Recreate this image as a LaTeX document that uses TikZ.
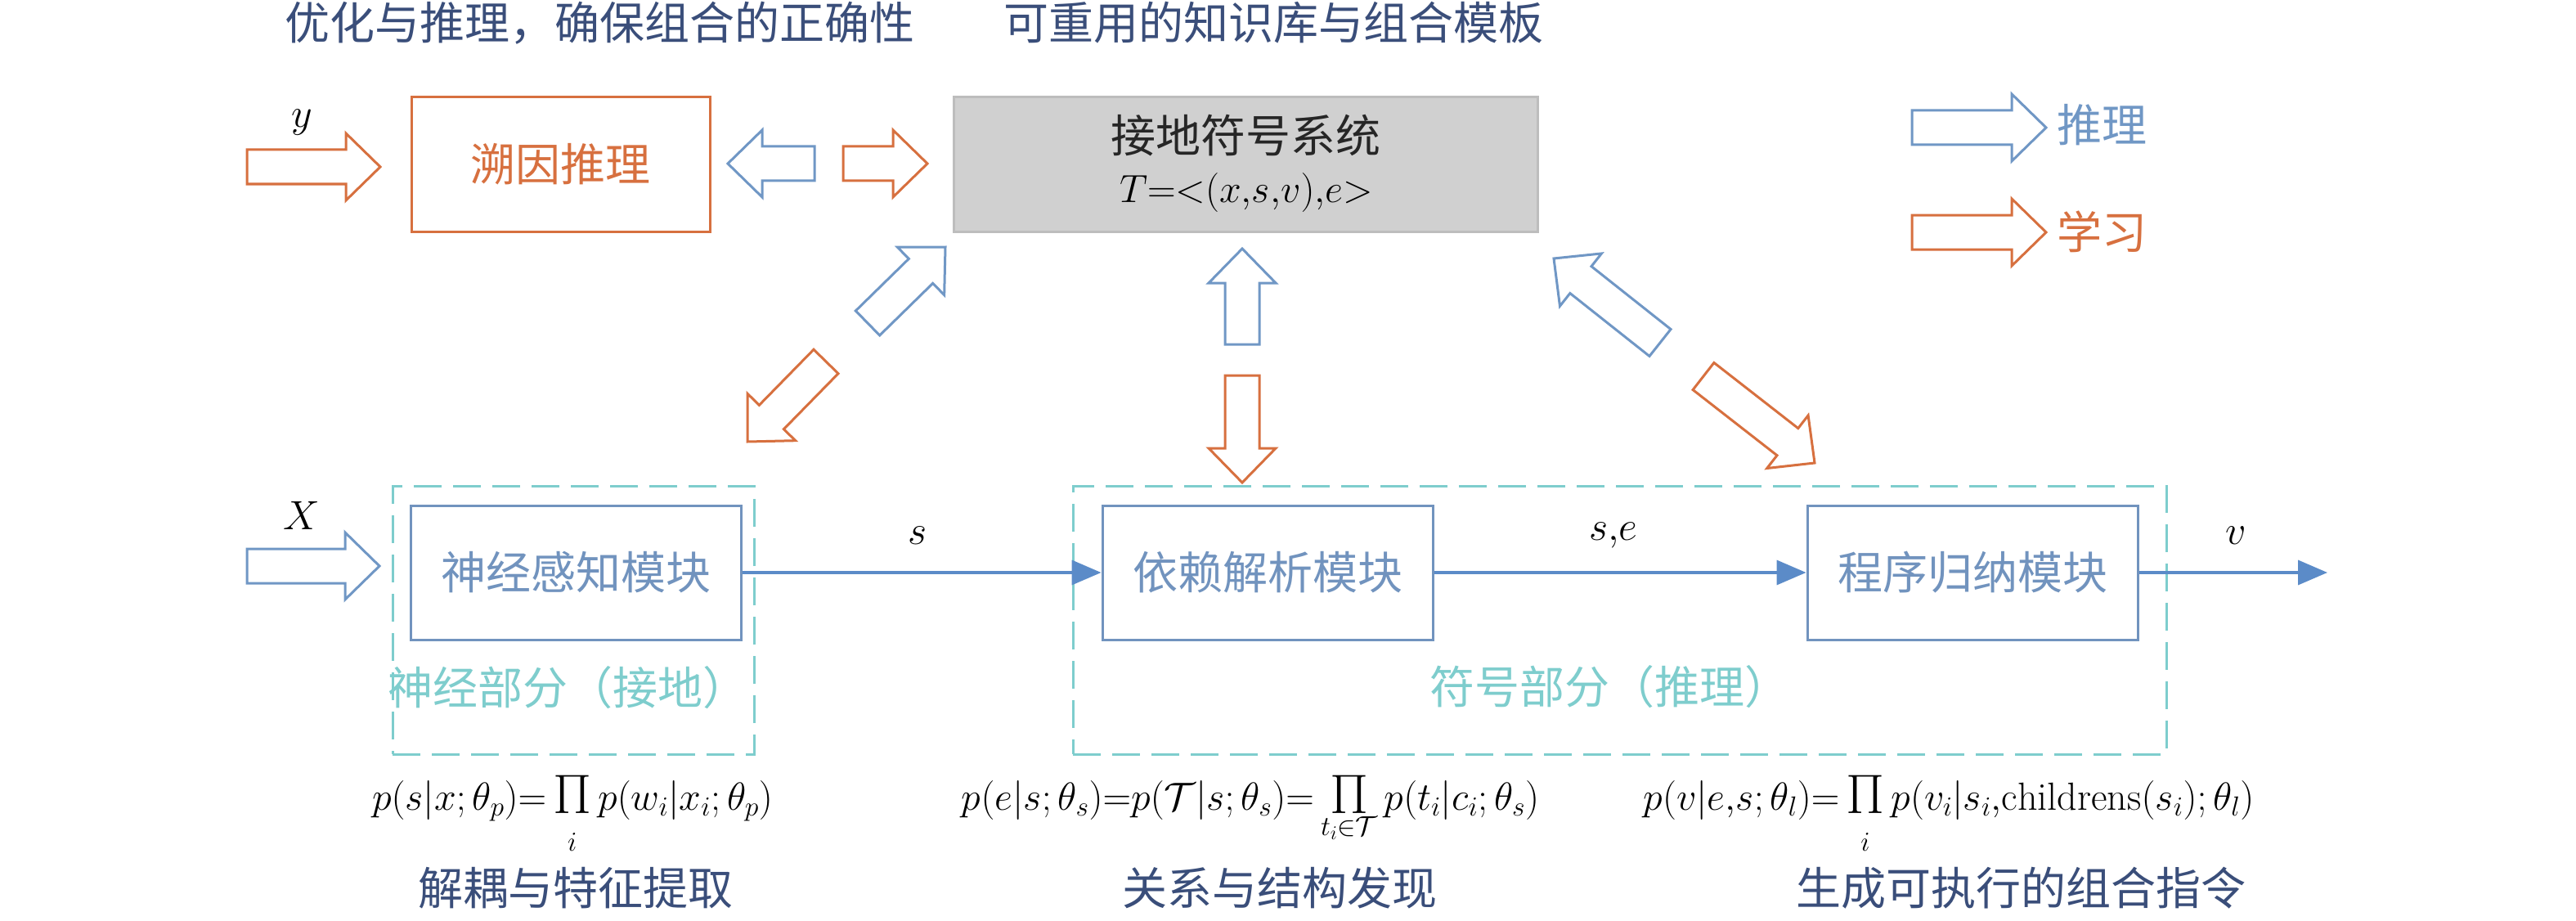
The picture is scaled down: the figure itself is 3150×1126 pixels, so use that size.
\RequirePackage{fix-cm}
\documentclass[tikz,border=0pt]{standalone}
\usepackage{amsmath}
\usepackage{fontspec}
\newfontfamily\cjk{Noto Sans CJK SC}
\usetikzlibrary{calc,arrows.meta}
\definecolor{orangeA}{RGB}{215,112,63}
\definecolor{blueA}{RGB}{112,151,197}
\definecolor{boxblue}{RGB}{113,147,190}
\definecolor{flowblue}{RGB}{91,139,200}
\definecolor{cyanA}{RGB}{126,205,205}
\definecolor{navy}{RGB}{58,78,122}
\definecolor{grayfill}{RGB}{208,208,208}
\definecolor{grayline}{RGB}{189,189,189}
\newcommand{\myprod}{\mathop{\raisebox{-4pt}[\height][24pt]{\fontsize{68}{68}\selectfont$\Pi$}}\limits}
\newcommand{\blockarr}[3]{%
  \coordinate (hb) at ($(#3)!42pt!(#2)$);
  \draw[#1] ($(#2)!21pt!90:(#3)$) -- ($(hb)!21pt!90:(#3)$) -- ($(hb)!41pt!90:(#3)$)
    -- (#3) -- ($(hb)!41pt!-90:(#3)$) -- ($(hb)!21pt!-90:(#3)$) -- ($(#2)!21pt!-90:(#3)$) -- cycle;
}
\tikzset{
  blkarrow/.style={line width=3pt, fill=white, line join=miter, miter limit=10},
  arrO/.style={blkarrow, draw=orangeA},
  arrB/.style={blkarrow, draw=blueA},
  cjk55/.style={font=\cjk\fontsize{55}{60}\selectfont},
  modbox/.style={draw=boxblue, line width=3pt, minimum width=404pt, minimum height=164pt, inner sep=0pt, cjk55, text=boxblue},
  partbox/.style={draw=cyanA, line width=3pt, dash pattern=on 34pt off 14pt, inner sep=0pt},
  partlabel/.style={cjk55, text=cyanA},
  title/.style={cjk55, text=navy},
  mathlabel/.style={font=\fontsize{50}{56}\selectfont, text=black},
  formula/.style={font=\fontsize{48}{56}\selectfont, text=black, anchor=base},
  flowline/.style={draw=flowblue, line width=3.5pt, -{Triangle[length=36pt,width=30pt]}},
}
\begin{document}
\begin{tikzpicture}[x=1pt,y=-1pt]
\useasboundingbox[fill=white] (0,0) rectangle (3150,1126);

% titles
\node[title] (t1) at (733,28) {优化与推理，确保组合的正确性};
\node[title] (t2) at (1557,28) {可重用的知识库与组合模板};

% top boxes
\node[draw=orangeA, line width=3pt, minimum width=365pt, minimum height=164pt, inner sep=0pt, cjk55, text=orangeA] (abd) at (685.5,201) {溯因推理};
\node[draw=grayline, fill=grayfill, line width=3pt, minimum width=714pt, minimum height=164pt, inner sep=0pt] (gsys) at (1523,201) {};
\node[cjk55, text=black!85] (gsys1) at (1523,166) {接地符号系统};
\node[font=\fontsize{48}{56}\selectfont] (gsys2) at (1524,236) {$T{=}{<}(x{,}s{,}v){,}e{>}$};

% legend
\coordinate (lgbT) at (2338,156); \coordinate (lgbP) at (2502,156);
\coordinate (lgoT) at (2338,284); \coordinate (lgoP) at (2502,284);
\blockarr{arrB}{lgbT}{lgbP}
\blockarr{arrO}{lgoT}{lgoP}
\node[cjk55, text=blueA, anchor=west] (lgb) at (2512,153) {推理};
\node[cjk55, text=orangeA, anchor=west] (lgo) at (2512,283) {学习};

% top row block arrows
\coordinate (yT) at (302,204); \coordinate (yP) at (465,204);
\blockarr{arrO}{yT}{yP}
\node[mathlabel] (ylab) at (369,150) {$y$};
\coordinate (lbT) at (996,200); \coordinate (lbP) at (890,200);
\blockarr{arrB}{lbT}{lbP}
\coordinate (roT) at (1031,200); \coordinate (roP) at (1134,200);
\blockarr{arrO}{roT}{roP}

% diagonal / vertical block arrows
\coordinate (d1T) at (1061,395); \coordinate (d1P) at (1156,302);
\blockarr{arrB}{d1T}{d1P}
\coordinate (d2T) at (1010,442); \coordinate (d2P) at (914,540);
\blockarr{arrO}{d2T}{d2P}
\coordinate (d3T) at (1519,421); \coordinate (d3P) at (1519,304);
\blockarr{arrB}{d3T}{d3P}
\coordinate (d4T) at (1519,459); \coordinate (d4P) at (1519,590);
\blockarr{arrO}{d4T}{d4P}
\coordinate (d5T) at (2030,419); \coordinate (d5P) at (1900,316);
\blockarr{arrB}{d5T}{d5P}
\coordinate (d6T) at (2083,460); \coordinate (d6P) at (2219,566);
\blockarr{arrO}{d6T}{d6P}

% part boxes
\node[partbox, minimum width=442pt, minimum height=328pt] (pneu) at (701,758) {};
\node[partbox, minimum width=1337pt, minimum height=328pt] (psym) at (1980.5,758) {};
\node[partlabel] (pneul) at (694,841) {神经部分（接地）};
\node[partlabel] (psyml) at (1968,840) {符号部分（推理）};

% modules
\node[modbox] (m1) at (704,700) {神经感知模块};
\node[modbox] (m2) at (1550,700) {依赖解析模块};
\node[modbox] (m3) at (2412,700) {程序归纳模块};

% input X
\coordinate (xT) at (302,692); \coordinate (xP) at (464,692);
\blockarr{arrB}{xT}{xP}
\node[mathlabel] (xlab) at (369,630) {$X$};

% flow
\draw[flowline] (m1.east) -- (m2.west);
\draw[flowline] (m2.east) -- (m3.west);
\coordinate (vout) at (2846,700);
\draw[flowline] (m3.east) -- (vout);
\node[mathlabel] (slab) at (1122,655) {$s$};
\node[mathlabel] (selab) at (1973,655) {$s{,}e$};
\node[mathlabel] (vlab) at (2734,655) {$v$};

% formulas
\node[formula] (f1) at (700,990) {$p(s|x;\theta_p){=}\myprod_{i} p(w_i|x_i;\theta_p)$};
\node[formula] (f2) at (1529,990) {$p(e|s;\theta_s){=}p(\mathcal{T}|s;\theta_s){=}\myprod_{t_i\in\mathcal{T}} p(t_i|c_i;\theta_s)$};
\node[formula] (f3) at (2383,990) {$p(v|e{,}s;\theta_l){=}\myprod_{i} p(v_i|s_i{,}\mathrm{childrens}(s_i);\theta_l)$};

% captions
\node[title] (c1) at (704,1086) {解耦与特征提取};
\node[title] (c2) at (1565,1086) {关系与结构发现};
\node[title] (c3) at (2471,1086) {生成可执行的组合指令};
\end{tikzpicture}
\end{document}
